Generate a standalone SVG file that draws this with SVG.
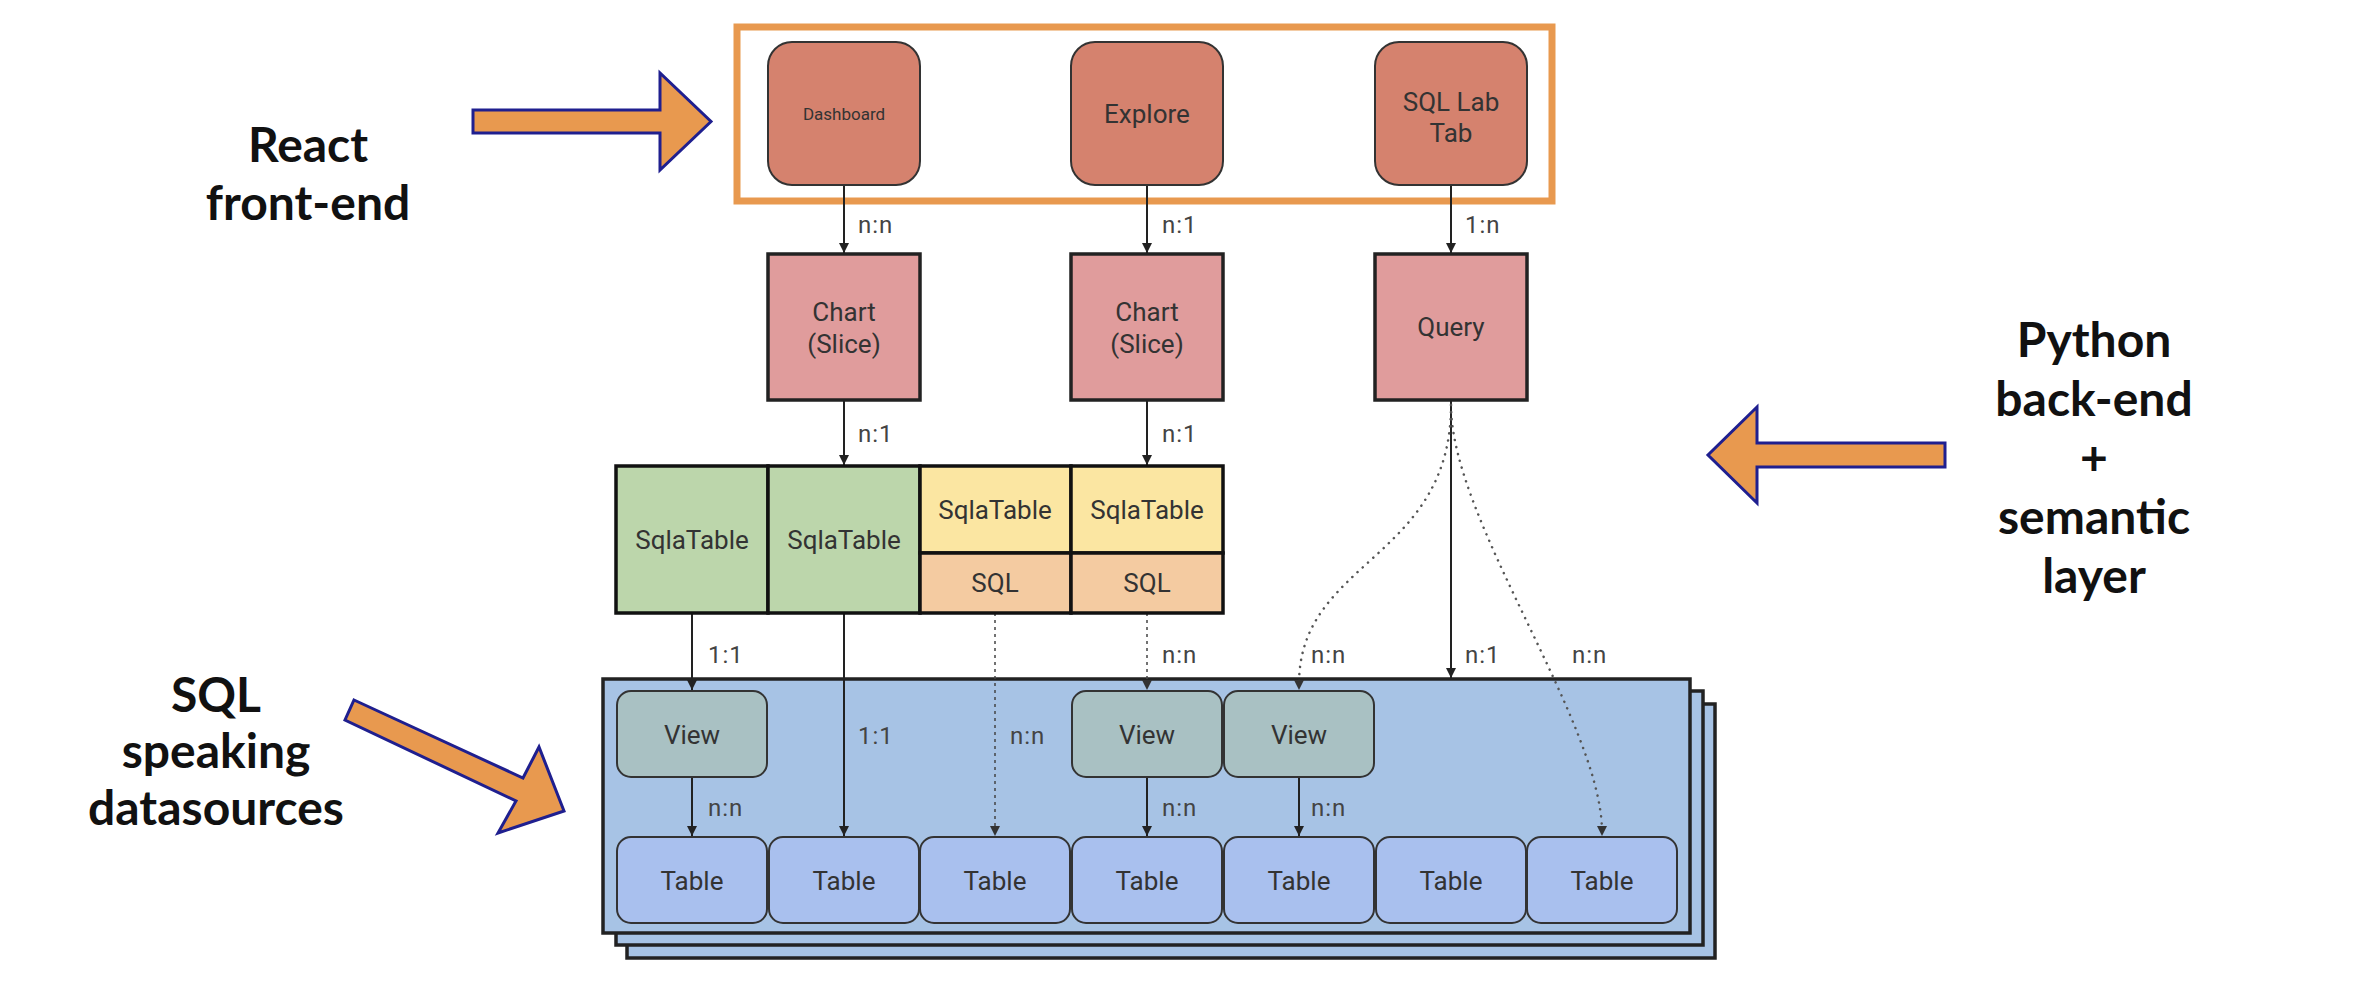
<svg xmlns="http://www.w3.org/2000/svg" width="2356" height="1000" viewBox="0 0 2356 1000">
<defs>
<marker id="ah" viewBox="0 0 10 10" refX="10" refY="5" markerWidth="10" markerHeight="10" markerUnits="userSpaceOnUse" orient="auto">
<path d="M0,0 L10,5 L0,10 z" fill="#222"/>
</marker>
</defs>
<style>
.side{font-family:Lato,"Noto Sans",sans-serif;font-weight:bold;font-size:48px;fill:#111;text-anchor:middle}
.nt{font-family:Roboto,"Liberation Sans",sans-serif;font-size:26px;fill:#333;text-anchor:middle}
.lbl{font-family:Roboto,"Liberation Sans",sans-serif;font-size:24px;fill:#444;letter-spacing:1px}
.big{fill:#E8994F;stroke:#1F1F8F;stroke-width:3;stroke-linejoin:miter}
.top{fill:#D5826E;stroke:#333;stroke-width:2}
.chart{fill:#E09C9C;stroke:#222;stroke-width:3.5}
.green{fill:#BCD6AB;stroke:#111;stroke-width:3.5}
.yel{fill:#FBE6A2;stroke:#111;stroke-width:3.5}
.sql{fill:#F4CBA1;stroke:#111;stroke-width:3.5}
.cont{fill:#A7C3E5;stroke:#222;stroke-width:3.5}
.view{fill:#A9C1C3;stroke:#333;stroke-width:2}
.table{fill:#A9C0EE;stroke:#333;stroke-width:2}
.ln{stroke:#222;stroke-width:2;fill:none}
.dash{stroke:#444;stroke-width:1.5;fill:none;stroke-dasharray:3 4}
.dot{stroke:#555;stroke-width:2.5;fill:none;stroke-dasharray:0.1 7;stroke-linecap:round}
</style>
<rect width="2356" height="1000" fill="#fff"/>

<g id="side-labels">
<text class="side" x="308" y="162">React</text>
<text class="side" x="308" y="220">front-end</text>
<text class="side" x="2094" y="357">Python</text>
<text class="side" x="2094" y="416">back-end</text>
<text class="side" x="2094" y="475">+</text>
<text class="side" x="2094" y="534">semantic</text>
<text class="side" x="2094" y="593">layer</text>
<text class="side" x="216" y="712">SQL</text>
<text class="side" x="216" y="768">speaking</text>
<text class="side" x="216" y="825">datasources</text>
</g>

<g id="big-arrows">
<polygon class="big" points="473,110 660,110 660,73 711,121.5 660,170 660,133 473,133"/>
<polygon class="big" points="1945,443 1757,443 1757,407 1708,455 1757,503 1757,467 1945,467"/>
<polygon class="big" points="354,700 523,778 539,747 564,811 498,833 516,801 345,720"/>
</g>

<g id="frontend-frame">
<rect x="737" y="27" width="815" height="174" fill="none" stroke="#E8994F" stroke-width="7"/>
</g>

<g id="datasource-stack">
<rect class="cont" x="627" y="704" width="1088" height="254"/>
<rect class="cont" x="616" y="691" width="1087" height="254"/>
<rect class="cont" x="603" y="679" width="1087" height="254"/>
</g>

<g id="connectors">
<line class="ln" x1="844" y1="185" x2="844" y2="253" marker-end="url(#ah)"/>
<line class="ln" x1="1147" y1="185" x2="1147" y2="253" marker-end="url(#ah)"/>
<line class="ln" x1="1451" y1="185" x2="1451" y2="253" marker-end="url(#ah)"/>
<line class="ln" x1="844" y1="400" x2="844" y2="465" marker-end="url(#ah)"/>
<line class="ln" x1="1147" y1="400" x2="1147" y2="465" marker-end="url(#ah)"/>
<line class="ln" x1="692" y1="613" x2="692" y2="690" marker-end="url(#ah)"/>
<line class="ln" x1="844" y1="613" x2="844" y2="836" marker-end="url(#ah)"/>
<line class="dash" x1="995" y1="613" x2="995" y2="834"/>
<path d="M990,826 L995,836 L1000,826 z" fill="#333"/>
<line class="dash" x1="1147" y1="613" x2="1147" y2="686"/>
<path d="M1142,680 L1147,690 L1152,680 z" fill="#333"/>
<line class="ln" x1="1451" y1="400" x2="1451" y2="678" marker-end="url(#ah)"/>
<path class="dot" d="M1451,405 C1451,560 1299,560 1299,684"/>
<path d="M1294,680 L1299,690 L1304,680 z" fill="#333"/>
<path class="dot" d="M1451,405 C1451,520 1600,720 1602,830"/>
<path d="M1597,826 L1602,836 L1607,826 z" fill="#333"/>
<line class="ln" x1="692" y1="777" x2="692" y2="836" marker-end="url(#ah)"/>
<line class="ln" x1="1147" y1="777" x2="1147" y2="836" marker-end="url(#ah)"/>
<line class="ln" x1="1299" y1="777" x2="1299" y2="836" marker-end="url(#ah)"/>
</g>

<g id="connector-labels">
<text class="lbl" x="858" y="233">n:n</text>
<text class="lbl" x="1162" y="233">n:1</text>
<text class="lbl" x="1465" y="233">1:n</text>
<text class="lbl" x="858" y="442">n:1</text>
<text class="lbl" x="1162" y="442">n:1</text>
<text class="lbl" x="708" y="663">1:1</text>
<text class="lbl" x="1162" y="663">n:n</text>
<text class="lbl" x="1311" y="663">n:n</text>
<text class="lbl" x="1465" y="663">n:1</text>
<text class="lbl" x="1572" y="663">n:n</text>
<text class="lbl" x="858" y="744">1:1</text>
<text class="lbl" x="1010" y="744">n:n</text>
<text class="lbl" x="708" y="816">n:n</text>
<text class="lbl" x="1162" y="816">n:n</text>
<text class="lbl" x="1311" y="816">n:n</text>
</g>

<g id="dashboard"><rect class="top" x="768" y="42" width="152" height="143" rx="24"/><text class="nt" x="844" y="120" style="font-size:17px">Dashboard</text></g>
<g id="explore"><rect class="top" x="1071" y="42" width="152" height="143" rx="24"/><text class="nt" x="1147" y="123">Explore</text></g>
<g id="sqllab"><rect class="top" x="1375" y="42" width="152" height="143" rx="24"/><text class="nt" x="1451" y="111">SQL Lab</text><text class="nt" x="1451" y="142">Tab</text></g>

<g id="chart1"><rect class="chart" x="768" y="254" width="152" height="146"/><text class="nt" x="844" y="321">Chart</text><text class="nt" x="844" y="353">(Slice)</text></g>
<g id="chart2"><rect class="chart" x="1071" y="254" width="152" height="146"/><text class="nt" x="1147" y="321">Chart</text><text class="nt" x="1147" y="353">(Slice)</text></g>
<g id="query"><rect class="chart" x="1375" y="254" width="152" height="146"/><text class="nt" x="1451" y="336">Query</text></g>

<g id="sqlatable1"><rect class="green" x="616" y="466" width="152" height="147"/><text class="nt" x="692" y="549">SqlaTable</text></g>
<g id="sqlatable2"><rect class="green" x="768" y="466" width="152" height="147"/><text class="nt" x="844" y="549">SqlaTable</text></g>
<g id="sqlatable3"><rect class="yel" x="920" y="466" width="151" height="87"/><text class="nt" x="995" y="519">SqlaTable</text><rect class="sql" x="920" y="553" width="151" height="60"/><text class="nt" x="995" y="592">SQL</text></g>
<g id="sqlatable4"><rect class="yel" x="1071" y="466" width="152" height="87"/><text class="nt" x="1147" y="519">SqlaTable</text><rect class="sql" x="1071" y="553" width="152" height="60"/><text class="nt" x="1147" y="592">SQL</text></g>

<g id="view1"><rect class="view" x="617" y="691" width="150" height="86" rx="14"/><text class="nt" x="692" y="744">View</text></g>
<g id="view2"><rect class="view" x="1072" y="691" width="150" height="86" rx="14"/><text class="nt" x="1147" y="744">View</text></g>
<g id="view3"><rect class="view" x="1224" y="691" width="150" height="86" rx="14"/><text class="nt" x="1299" y="744">View</text></g>

<g id="table1"><rect class="table" x="617" y="837" width="150" height="86" rx="14"/><text class="nt" x="692" y="890">Table</text></g>
<g id="table2"><rect class="table" x="769" y="837" width="150" height="86" rx="14"/><text class="nt" x="844" y="890">Table</text></g>
<g id="table3"><rect class="table" x="920" y="837" width="150" height="86" rx="14"/><text class="nt" x="995" y="890">Table</text></g>
<g id="table4"><rect class="table" x="1072" y="837" width="150" height="86" rx="14"/><text class="nt" x="1147" y="890">Table</text></g>
<g id="table5"><rect class="table" x="1224" y="837" width="150" height="86" rx="14"/><text class="nt" x="1299" y="890">Table</text></g>
<g id="table6"><rect class="table" x="1376" y="837" width="150" height="86" rx="14"/><text class="nt" x="1451" y="890">Table</text></g>
<g id="table7"><rect class="table" x="1527" y="837" width="150" height="86" rx="14"/><text class="nt" x="1602" y="890">Table</text></g>
</svg>
